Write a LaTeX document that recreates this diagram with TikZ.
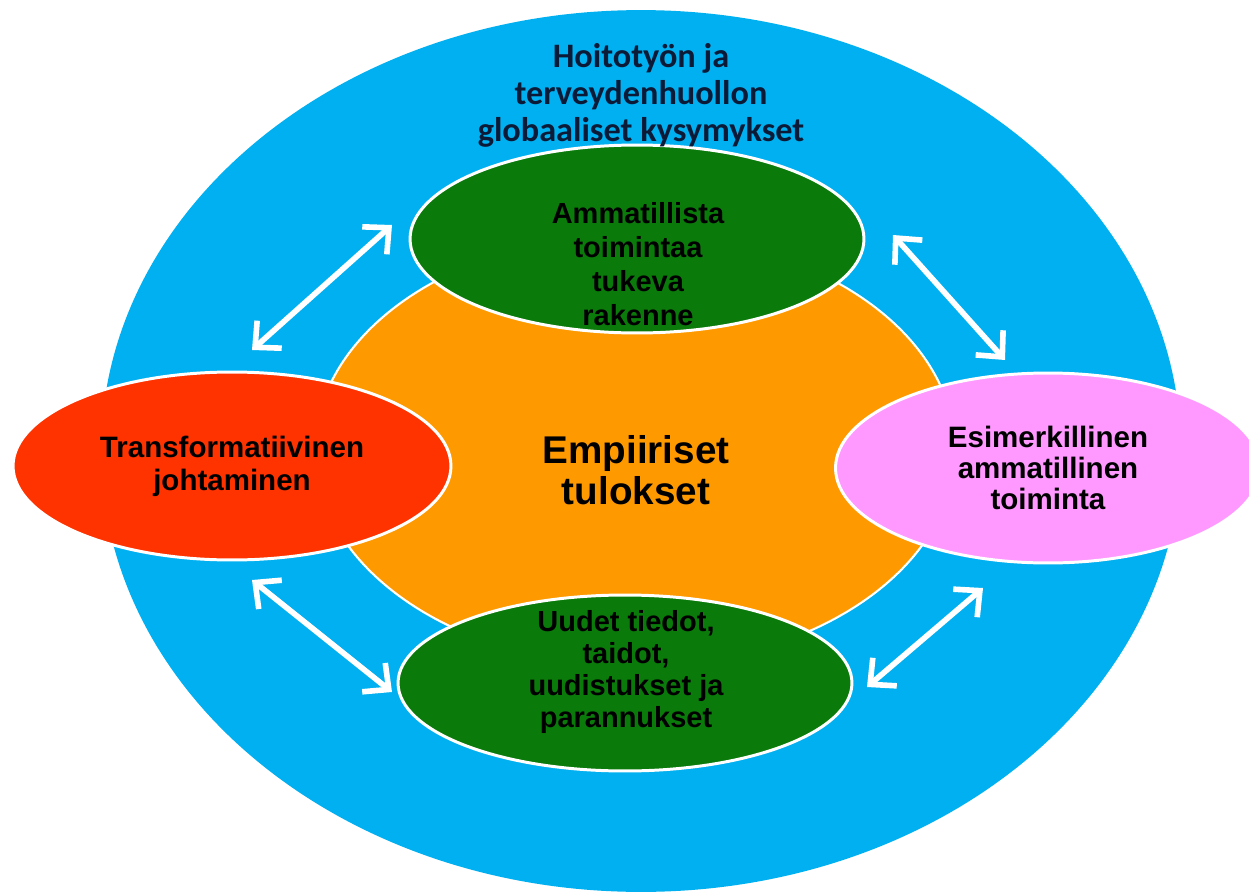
\documentclass[tikz,border=0pt]{standalone}
\usepackage{fontspec}
\setmainfont{Liberation Sans}
\newfontfamily\calibrifont{Carlito}
\usetikzlibrary{shapes.geometric, arrows.meta}

\definecolor{ringblue}{HTML}{00B0F0}
\definecolor{coreorange}{HTML}{FF9900}
\definecolor{leafgreen}{HTML}{0A7A0A}
\definecolor{leadred}{HTML}{FF3300}
\definecolor{practpink}{HTML}{FF99FF}
\definecolor{titlenavy}{HTML}{0B1A36}

\tikzstyle{oval} = [ellipse, draw=white, line width=1.7pt, inner sep=0pt, align=center, text=black]
\tikzstyle{oval_green} = [oval, fill=leafgreen, minimum width=9.08cm]
\tikzstyle{txt} = [align=center, text=black, font=\bfseries\fontsize{16.5}{19.3}\selectfont]
\tikzstyle{arrow} = [draw=white, line width=3.2pt, <->, >={Straight Barb[length=11pt,width=21pt]}]

\begin{document}
\begin{tikzpicture}[x=0.02cm, y=-0.02cm]
    \useasboundingbox (0,0) rectangle (1249,896);
    \clip (0,0) rectangle (1249,896);
    % outer ring and core
    \node (global) [ellipse, fill=ringblue, minimum width=21.6cm, minimum height=17.64cm] at (641,451) {};
    \node (core) [oval, fill=coreorange, line width=1.2pt, minimum width=12.8cm, minimum height=8.64cm] at (635,450) {};
    \node (structure) [oval_green, minimum height=3.76cm] at (637,239) {};
    \node (renewal) [oval_green, minimum height=3.52cm] at (625,683) {};
    \node (leadership) [oval, fill=leadred, minimum width=8.76cm, minimum height=3.76cm,
        font=\bfseries\fontsize{16.8}{18.7}\selectfont] at (232,466) {Transformatiivinen\\johtaminen};
    \node (practice) [oval, fill=practpink, minimum width=8.5cm, minimum height=3.8cm,
        font=\bfseries\fontsize{16.8}{17.8}\selectfont] at (1048,468) {Esimerkillinen\\ammatillinen\\toiminta};
    % texts
    \node (global_txt) [align=center, text=titlenavy, font=\calibrifont\bfseries\fontsize{19.5}{21}\selectfont] at (641,95)
        {Hoitotyön ja\\terveydenhuollon\\globaaliset kysymykset};
    \node (core_txt) [txt, font=\bfseries\fontsize{22}{23.5}\selectfont] at (636,470) {Empiiriset\\tulokset};
    \node (structure_txt) [txt] at (638,264) {Ammatillista\\toimintaa\\tukeva\\rakenne};
    \node (renewal_txt) [txt, font=\bfseries\fontsize{16.5}{18.4}\selectfont] at (626,672) {Uudet tiedot,\\taidot,\\uudistukset ja\\parannukset};
    % arrows
    \coordinate (lead_up) at (252,350);
    \coordinate (struct_left) at (392,225);
    \coordinate (struct_right) at (893,235);
    \coordinate (pract_up) at (1005,360);
    \coordinate (lead_down) at (252,580);
    \coordinate (renew_left) at (392,692);
    \coordinate (renew_right) at (867,687);
    \coordinate (pract_down) at (983,588);
    \draw [arrow] (lead_up) -- (struct_left);
    \draw [arrow] (struct_right) -- (pract_up);
    \draw [arrow] (lead_down) -- (renew_left);
    \draw [arrow] (renew_right) -- (pract_down);
\end{tikzpicture}
\end{document}
